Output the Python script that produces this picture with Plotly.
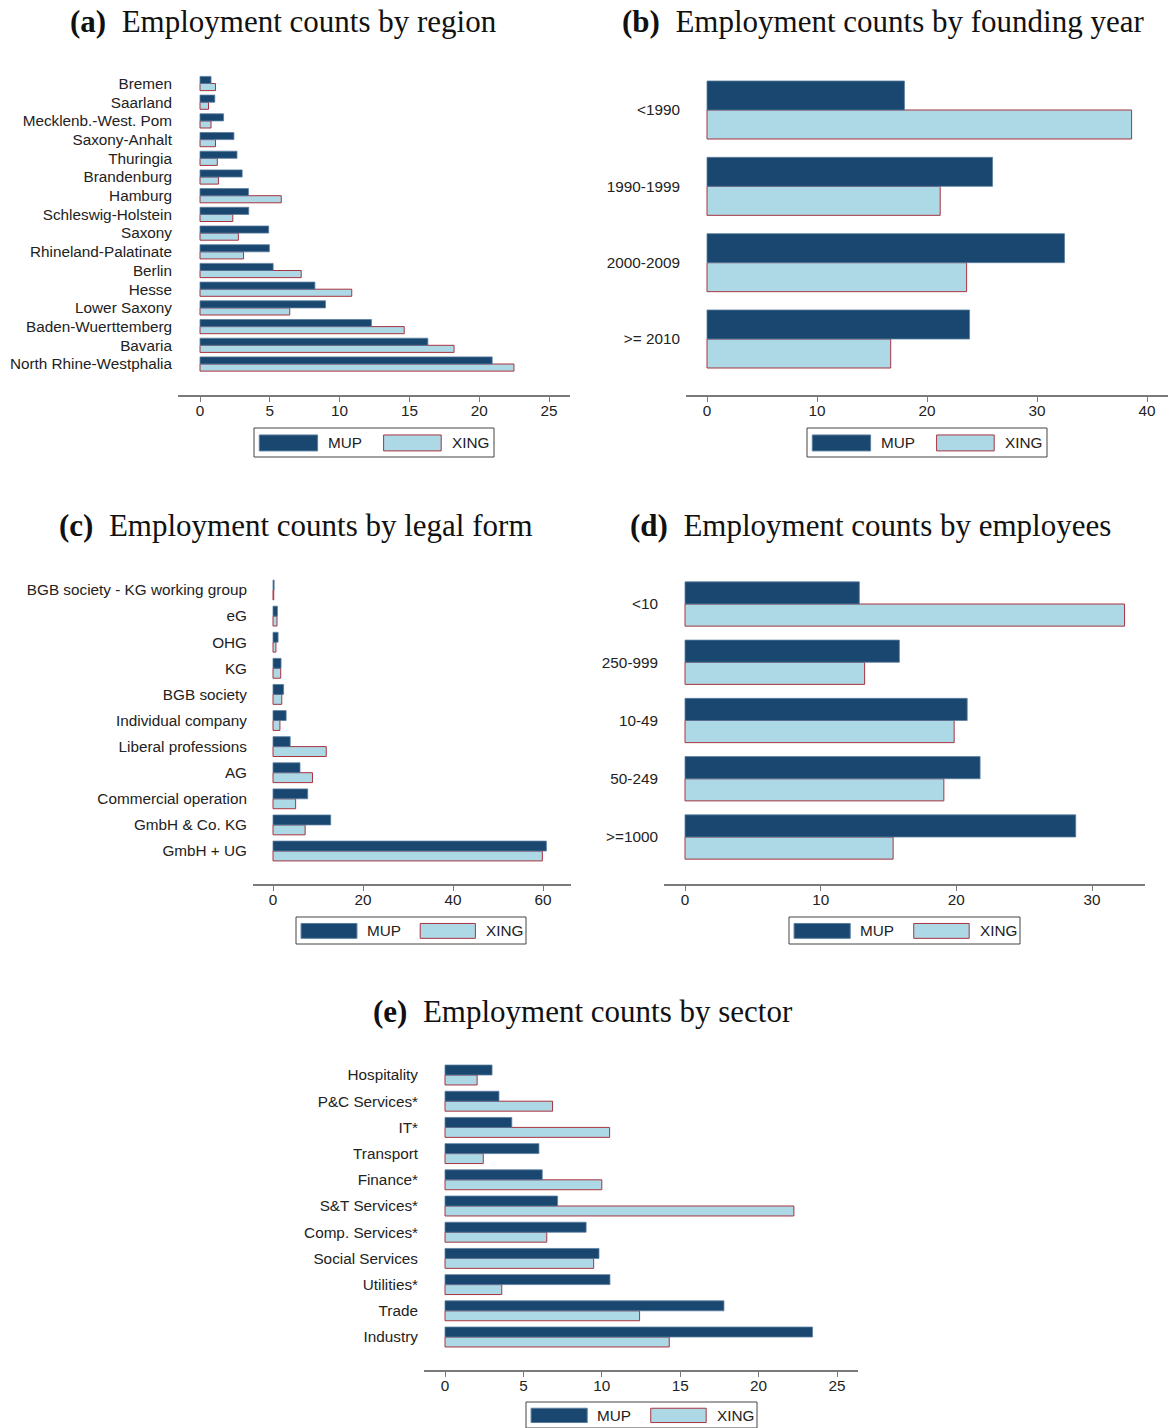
import html
import plotly.graph_objects as go

# ---- data (shares in percent) ----
regions = ["Bremen", "Saarland", "Mecklenb.-West. Pom", "Saxony-Anhalt", "Thuringia",
           "Brandenburg", "Hamburg", "Schleswig-Holstein", "Saxony", "Rhineland-Palatinate",
           "Berlin", "Hesse", "Lower Saxony", "Baden-Wuerttemberg", "Bavaria",
           "North Rhine-Westphalia"]
region_mup = [0.79, 1.06, 1.69, 2.43, 2.65, 3.02, 3.47, 3.49, 4.92, 4.97, 5.24, 8.23, 8.99,
              12.28, 16.32, 20.93]
region_xing = [1.11, 0.61, 0.79, 1.11, 1.24, 1.32, 5.82, 2.35, 2.75, 3.12, 7.25, 10.87, 6.43,
               14.63, 18.20, 22.49]

founding = ["<1990", "1990-1999", "2000-2009", ">= 2010"]
founding_mup = [17.95, 25.96, 32.50, 23.87]
founding_xing = [38.60, 21.20, 23.60, 16.70]

legal_forms = ["BGB society - KG working group", "eG", "OHG", "KG", "BGB society",
               "Individual company", "Liberal professions", "AG", "Commercial operation",
               "GmbH & Co. KG", "GmbH + UG"]
legal_mup = [0.25, 0.98, 1.13, 1.79, 2.36, 2.92, 3.82, 6.00, 7.71, 12.82, 60.75]
legal_xing = [0.16, 0.89, 0.65, 1.71, 1.95, 1.54, 11.83, 8.77, 5.03, 7.14, 59.86]

employees = ["<10", "250-999", "10-49", "50-249", ">=1000"]
employees_mup = [12.85, 15.80, 20.80, 21.75, 28.80]
employees_xing = [32.40, 13.24, 19.84, 19.08, 15.34]

sectors = ["Hospitality", "P&C Services*", "IT*", "Transport", "Finance*", "S&T Services*",
           "Comp. Services*", "Social Services", "Utilities*", "Trade", "Industry"]
sector_mup = [3.00, 3.44, 4.26, 5.99, 6.20, 7.18, 9.00, 9.82, 10.52, 17.79, 23.44]
sector_xing = [2.05, 6.86, 10.50, 2.44, 10.00, 22.25, 6.49, 9.48, 3.62, 12.41, 14.30]

x_ticks_a = [0, 5, 10, 15, 20, 25]
x_ticks_b = [0, 10, 20, 30, 40]
x_ticks_c = [0, 20, 40, 60]
x_ticks_d = [0, 10, 20, 30]
x_ticks_e = [0, 5, 10, 15, 20, 25]

titles = [("(a)", "Employment counts by region"),
          ("(b)", "Employment counts by founding year"),
          ("(c)", "Employment counts by legal form"),
          ("(d)", "Employment counts by employees"),
          ("(e)", "Employment counts by sector")]

# ---- styling ----
W, H = 1171, 1428
NAVY = "#1a476f"
NAVY_EDGE = "#5a7d9f"
LIGHT = "#add8e6"
LIGHT_EDGE = "#a8343f"
AXIS = "#7a7a7a"
SANS = "Liberation Sans, Arial, sans-serif"
SERIF = "Liberation Serif, Times New Roman, serif"


def px_x(v):
    return v / W


def px_y(v):
    return 1 - v / H


# panel geometry in pixels: x-domain, y-domain, pixel of tick 0 and of a reference tick,
# pixel centres of first / last category, title centre, legend box
panels = [
    dict(cats=regions, mup=region_mup, xing=region_xing, ticks=x_ticks_a,
         xd=(178, 570), yd=(52.5, 395), x0px=200, xref=(25, 549), c=(83.5, 364),
         title=(283, 22), leg=(254, 494, 428, 457)),
    dict(cats=founding, mup=founding_mup, xing=founding_xing, ticks=x_ticks_b,
         xd=(686, 1168), yd=(54, 395), x0px=707, xref=(40, 1147), c=(110, 339),
         title=(883, 22), leg=(807, 1047, 428, 457)),
    dict(cats=legal_forms, mup=legal_mup, xing=legal_xing, ticks=x_ticks_c,
         xd=(253, 571), yd=(557, 884), x0px=273, xref=(60, 543), c=(590, 851),
         title=(296, 525), leg=(296, 526, 917, 944)),
    dict(cats=employees, mup=employees_mup, xing=employees_xing, ticks=x_ticks_d,
         xd=(664, 1145), yd=(557, 884), x0px=685, xref=(30, 1092), c=(604, 837),
         title=(870, 525), leg=(789, 1020, 917, 944)),
    dict(cats=sectors, mup=sector_mup, xing=sector_xing, ticks=x_ticks_e,
         xd=(424, 858), yd=(1042, 1370), x0px=445, xref=(25, 837), c=(1075, 1337),
         title=(583, 1011), leg=(526, 757, 1402, 1428)),
]

fig = go.Figure()
shapes = []
annotations = []

for i, p in enumerate(panels, start=1):
    xa = "x" if i == 1 else f"x{i}"
    ya = "y" if i == 1 else f"y{i}"
    cats = p["cats"]
    n = len(cats)

    # XING first so the MUP bar sits on top of its upper edge
    fig.add_trace(go.Bar(y=cats, x=p["xing"], orientation="h", name="XING",
                         marker=dict(color=LIGHT, line=dict(color=LIGHT_EDGE, width=1)),
                         xaxis=xa, yaxis=ya, showlegend=False))
    fig.add_trace(go.Bar(y=cats, x=p["mup"], orientation="h", name="MUP",
                         marker=dict(color=NAVY, line=dict(color=NAVY_EDGE, width=0.8)),
                         xaxis=xa, yaxis=ya, showlegend=False))

    # x scale
    ppu = (p["xref"][1] - p["x0px"]) / p["xref"][0]
    xr = [(p["xd"][0] - p["x0px"]) / ppu, (p["xd"][1] - p["x0px"]) / ppu]
    # y scale: bottom category is the last one in the list
    c_first, c_last = p["c"]
    u = (n - 1) / (c_last - c_first)
    yr = [-(p["yd"][1] - c_last) * u, (n - 1) + (c_first - p["yd"][0]) * u]

    fig.layout[("xaxis" if i == 1 else f"xaxis{i}")] = dict(
        domain=[px_x(p["xd"][0]), px_x(p["xd"][1])], range=xr, anchor=ya,
        showline=True, linecolor=AXIS, linewidth=1.5, ticks="outside", ticklen=5,
        tickcolor=AXIS, tickwidth=1.2, tickmode="array", tickvals=p["ticks"],
        ticklabelstandoff=-4,
        showgrid=False, zeroline=False, tickfont=dict(family=SANS, size=15.3, color="#222"),
        fixedrange=True)
    fig.layout[("yaxis" if i == 1 else f"yaxis{i}")] = dict(
        domain=[px_y(p["yd"][1]), px_y(p["yd"][0])], range=yr, anchor=xa,
        type="category", categoryorder="array", categoryarray=list(reversed(cats)),
        tickmode="array", tickvals=cats, ticktext=[html.escape(c) for c in cats],
        showline=False, ticks="", showgrid=False, zeroline=False, ticklabelstandoff=5,
        tickfont=dict(family=SANS, size=15.3, color="#222"), fixedrange=True)

    # panel title
    tag, text = titles[i - 1]
    annotations.append(dict(
        x=px_x(p["title"][0]), y=px_y(p["title"][1]), xref="paper", yref="paper",
        xanchor="center", yanchor="middle", showarrow=False,
        text=f"<b>{tag}</b>  {text}", font=dict(family=SERIF, size=31, color="#111")))

    # legend box with two keys
    lx0, lx1, ly0, ly1 = p["leg"]
    lw, lh = lx1 - lx0, ly1 - ly0
    shapes.append(dict(type="rect", xref="paper", yref="paper",
                       x0=px_x(lx0), x1=px_x(lx1), y0=px_y(ly1), y1=px_y(ly0),
                       line=dict(color="#444", width=1), fillcolor="white"))
    ry0, ry1 = ly0 + 0.24 * lh, ly1 - 0.21 * lh
    keys = [(0.022, 0.265, 0.300, "MUP", NAVY, NAVY_EDGE),
            (0.540, 0.780, 0.817, "XING", LIGHT, LIGHT_EDGE)]
    for k0, k1, kt, label, fill, edge in keys:
        shapes.append(dict(type="rect", xref="paper", yref="paper",
                           x0=px_x(lx0 + k0 * lw), x1=px_x(lx0 + k1 * lw),
                           y0=px_y(ry1), y1=px_y(ry0),
                           line=dict(color=edge, width=1), fillcolor=fill))
        annotations.append(dict(
            x=px_x(lx0 + kt * lw), y=px_y((ly0 + ly1) / 2), xref="paper", yref="paper",
            xanchor="left", yanchor="middle", showarrow=False, text=label,
            font=dict(family=SANS, size=15.3, color="#222")))

fig.update_layout(
    width=W, height=H, margin=dict(l=0, r=0, t=0, b=0),
    paper_bgcolor="white", plot_bgcolor="white",
    barmode="group", bargap=0.24, bargroupgap=0,
    showlegend=False, shapes=shapes, annotations=annotations,
)

fig.write_html("out.html")
